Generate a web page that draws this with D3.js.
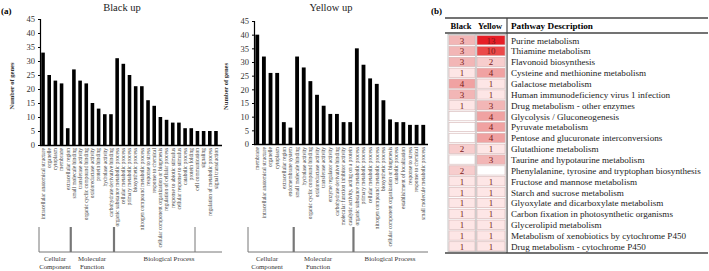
<!DOCTYPE html>
<html>
<head>
<meta charset="utf-8">
<script src="https://cdn.jsdelivr.net/npm/d3@7"></script>
<style>
  body { margin: 0; background: #fff; }
  svg { display: block; }
  svg text { font-family: 'Liberation Serif', 'DejaVu Serif', serif; }
</style>
</head>
<body>
<div id="container"></div>
<script>
const blackTerms = [
  'intracellular anatomical structure', 'organelle', 'cytoplasm', 'membrane', 'extracellular region',
  'small molecule binding', 'transferase activity', 'organic cyclic compound binding', 'oxidoreductase activity',
  'protein binding', 'hydrolase activity', 'carbohydrate derivative binding',
  'organic substance metabolic process', 'cellular metabolic process', 'primary metabolic process',
  'biosynthetic process', 'nitrogen compound metabolic process', 'response to stress', 'response to chemical',
  'cellular component organization or biogenesis', 'regulation of cellular process', 'response to abiotic stimulus',
  'cellular response to stimulus', 'catabolic process', 'protein folding', 'cell communication', 'signaling',
  'regulation of metabolic process', 'signal transduction'
];
const blackCounts = [33, 25, 23, 22, 6, 27, 23, 22, 15, 13, 11, 11, 31, 29, 25, 21, 21, 16, 14, 10, 9, 8, 8, 6, 6, 5, 5, 5, 5];
const blackGroups = [5, 7, 17];

const yellowTerms = [
  'membrane', 'intracellular anatomical structure', 'organelle', 'cytoplasm', 'extracellular region', 'endomembrane system',
  'small molecule binding', 'hydrolase activity', 'organic cyclic compound binding', 'oxidoreductase activity',
  'transferase activity', 'enzyme regulator activity', 'carbohydrate derivative binding',
  'molecular function inhibitor activity', 'catalytic activity, acting on a protein',
  'organic substance metabolic process', 'primary metabolic process', 'cellular metabolic process',
  'nitrogen compound metabolic process', 'biosynthetic process', 'cellular component organization or biogenesis',
  'catabolic process', 'establishment of localization', 'response to stress', 'response to chemical',
  'small molecule metabolic process'
];
const yellowCounts = [40, 32, 26, 26, 8, 6, 32, 28, 23, 18, 14, 11, 11, 8, 8, 35, 29, 24, 22, 16, 9, 8, 8, 7, 7, 7];
const yellowGroups = [6, 9, 11];

const yTicks = [0, 5, 10, 15, 20, 25, 30, 35, 40, 45];

const pathways = [
  'Purine metabolism', 'Thiamine metabolism', 'Flavonoid biosynthesis', 'Cysteine and methionine metabolism',
  'Galactose metabolism', 'Human immunodeficiency virus 1 infection', 'Drug metabolism - other enzymes',
  'Glycolysis / Gluconeogenesis', 'Pyruvate metabolism', 'Pentose and glucuronate interconversions',
  'Glutathione metabolism', 'Taurine and hypotaurine metabolism',
  'Phenylalanine, tyrosine and tryptophan biosynthesis', 'Fructose and mannose metabolism',
  'Starch and sucrose metabolism', 'Glyoxylate and dicarboxylate metabolism',
  'Carbon fixation in photosynthetic organisms', 'Glycerolipid metabolism',
  'Metabolism of xenobiotics by cytochrome P450', 'Drug metabolism - cytochrome P450'
];
const pathBlack = [3, 3, 3, 1, 4, 3, 1, null, null, null, 2, null, 2, 1, 1, 1, 1, 1, 1, 1];
const pathYellow = [13, 10, 2, 4, 1, 1, 3, 4, 4, 4, 1, 3, null, 1, 1, 1, 1, 1, 1, 1];
const groupNames = [['Cellular', 'Component'], ['Molecular', 'Function'], ['Biological Process']];

const w = 709;
const h = 271;

const svg = d3.select('#container').append('svg').attr('width', w).attr('height', h);

svg.append('text').attr('x', 1).attr('y', 14).attr('font-size', 9).attr('font-weight', 'bold').text('(a)');
svg.append('text').attr('x', 431).attr('y', 14).attr('font-size', 9).attr('font-weight', 'bold').text('(b)');

function barChart(opt) {
  const x = d3.scaleBand().domain(opt.terms).range([opt.x0, opt.x1]).paddingInner(0.42).paddingOuter(0.2);
  const y = d3.scaleLinear().domain([0, 45]).range([opt.base, opt.top]);
  const g = svg.append('g');

  g.append('text')
    .attr('x', opt.titleX).attr('y', 11)
    .attr('text-anchor', 'middle').attr('font-size', 10.5).attr('fill', '#222')
    .text(opt.title);

  g.append('text')
    .attr('transform', `translate(${opt.x0 - 26},${(opt.base + opt.top) / 2 + 4}) rotate(-90)`)
    .attr('text-anchor', 'middle').attr('font-size', 6.5).attr('font-weight', 'bold').attr('fill', '#333')
    .text('Number of genes');

  g.selectAll('rect')
    .data(opt.counts)
    .enter()
    .append('rect')
    .attr('x', (d, i) => x(opt.terms[i]))
    .attr('y', d => y(d))
    .attr('width', x.bandwidth())
    .attr('height', d => y(0) - y(d))
    .attr('fill', '#000');

  const yAxis = d3.axisLeft(y).tickValues(yTicks).tickSize(2).tickPadding(3);
  const ya = g.append('g').attr('transform', `translate(${opt.x0},0)`).call(yAxis);
  ya.attr('font-family', null);
  ya.select('.domain').attr('stroke', '#000').attr('stroke-width', 1.2);
  ya.selectAll('text').attr('font-size', 8.5).attr('fill', '#333');

  g.append('line')
    .attr('x1', opt.x0).attr('x2', opt.axisEnd)
    .attr('y1', y(0) + 0.5).attr('y2', y(0) + 0.5)
    .attr('stroke', '#000').attr('stroke-width', 1.5);

  g.selectAll('.term')
    .data(opt.terms)
    .enter()
    .append('text')
    .attr('class', 'term')
    .attr('transform', d => `translate(${x(d) + x.bandwidth() / 2 + 1.8},${y(0) + 3}) rotate(-90)`)
    .attr('text-anchor', 'end')
    .attr('font-size', 5.4)
    .attr('fill', '#444')
    .text(d => d);

  // group brackets
  let start = 0;
  const bounds = [];
  opt.groups.forEach(n => {
    bounds.push([start, start + n - 1]);
    start += n;
  });
  const step = x.step();
  const edges = [opt.bx0];
  bounds.slice(1).forEach(b => edges.push(x(opt.terms[b[0]]) - step * 0.22));
  edges.push(opt.bx1);

  const by0 = 227;
  const by1 = 252;
  g.append('line').attr('x1', edges[0]).attr('x2', edges[3]).attr('y1', by1).attr('y2', by1)
    .attr('stroke', '#777').attr('stroke-width', 1);
  g.append('line').attr('x1', edges[0]).attr('x2', edges[0]).attr('y1', by0).attr('y2', by1)
    .attr('stroke', '#777').attr('stroke-width', 1);
  [edges[1], edges[2]].forEach(e => {
    g.append('line').attr('x1', e).attr('x2', e).attr('y1', by0).attr('y2', by1)
      .attr('stroke', '#777').attr('stroke-width', 2.2);
  });
  if (opt.extra) {
    g.append('line').attr('x1', opt.extra).attr('x2', opt.extra).attr('y1', by0).attr('y2', by1)
      .attr('stroke', '#777').attr('stroke-width', 1);
  }

  groupNames.forEach((lines, i) => {
    const cx = opt.labelX[i];
    lines.forEach((t, j) => {
      g.append('text')
        .attr('x', cx).attr('y', 261 + j * 8)
        .attr('text-anchor', 'middle').attr('font-size', 6.8).attr('fill', '#333')
        .text(t);
    });
  });
}

barChart({
  title: 'Black up', titleX: 122, terms: blackTerms, counts: blackCounts, groups: blackGroups,
  x0: 40, x1: 219, axisEnd: 222, base: 145, top: 19,
  bx0: 39, bx1: 222, extra: 195, labelX: [55, 92, 169]
});

barChart({
  title: 'Yellow up', titleX: 331, terms: yellowTerms, counts: yellowCounts, groups: yellowGroups,
  x0: 254, x1: 426.5, axisEnd: 428, base: 144, top: 21,
  bx0: 248, bx1: 428, labelX: [267, 318, 390]
});

// (b) table
const rowH = 10.85;
const tTop = 35;
const color = d3.scaleLinear()
  .domain([1, 2, 3, 4, 10, 13])
  .range(['#fde6e6', '#f7cdcd', '#f2b6b6', '#f0a2a2', '#eb4a4a', '#e61e26']);

const rows = d3.scaleBand().domain(d3.range(pathways.length)).range([tTop, tTop + rowH * pathways.length]);

const tbl = svg.append('g');
tbl.append('line').attr('x1', 445).attr('x2', 708).attr('y1', 18).attr('y2', 18).attr('stroke', '#444').attr('stroke-width', 1.5);
tbl.append('line').attr('x1', 445).attr('x2', 708).attr('y1', 33).attr('y2', 33).attr('stroke', '#444').attr('stroke-width', 1.5);
tbl.append('line').attr('x1', 445).attr('x2', 708).attr('y1', 253).attr('y2', 253).attr('stroke', '#444').attr('stroke-width', 1.5);
tbl.append('line').attr('x1', 507).attr('x2', 507).attr('y1', 18).attr('y2', 253).attr('stroke', '#444').attr('stroke-width', 1.2);

tbl.append('text').attr('x', 461).attr('y', 29).attr('text-anchor', 'middle').attr('font-size', 8.5).attr('font-weight', 'bold').text('Black');
tbl.append('text').attr('x', 490).attr('y', 29).attr('text-anchor', 'middle').attr('font-size', 8.5).attr('font-weight', 'bold').text('Yellow');
tbl.append('text').attr('x', 511).attr('y', 29).attr('font-size', 9.2).attr('font-weight', 'bold').text('Pathway Description');

const cols = [
  { vals: pathBlack, x: 449, w: 26 },
  { vals: pathYellow, x: 477, w: 28 }
];
cols.forEach(c => {
  tbl.append('rect')
    .attr('x', c.x - 1).attr('y', tTop - 0.5)
    .attr('width', c.w + 2).attr('height', rowH * pathways.length)
    .attr('fill', 'none').attr('stroke', '#bbb').attr('stroke-width', 0.8);
  tbl.selectAll(null)
    .data(c.vals)
    .enter()
    .append('rect')
    .attr('x', c.x)
    .attr('y', (d, i) => rows(i) + 0.6)
    .attr('width', c.w)
    .attr('height', rowH - 1.6)
    .attr('fill', d => (d === null ? '#fff' : color(d)))
    .attr('stroke', '#d4b4b4')
    .attr('stroke-width', 0.6);
  tbl.selectAll(null)
    .data(c.vals)
    .enter()
    .append('text')
    .attr('x', c.x + c.w / 2)
    .attr('y', (d, i) => rows(i) + rowH / 2 + 3.2)
    .attr('text-anchor', 'middle')
    .attr('font-size', 9)
    .attr('fill', '#7a1a1a')
    .text(d => (d === null ? '' : d));
});

tbl.selectAll('.path')
  .data(pathways)
  .enter()
  .append('text')
  .attr('class', 'path')
  .attr('x', 511)
  .attr('y', (d, i) => rows(i) + rowH / 2 + 3.2)
  .attr('font-size', 9.1)
  .attr('fill', '#222')
  .text(d => d);
</script>
</body>
</html>
